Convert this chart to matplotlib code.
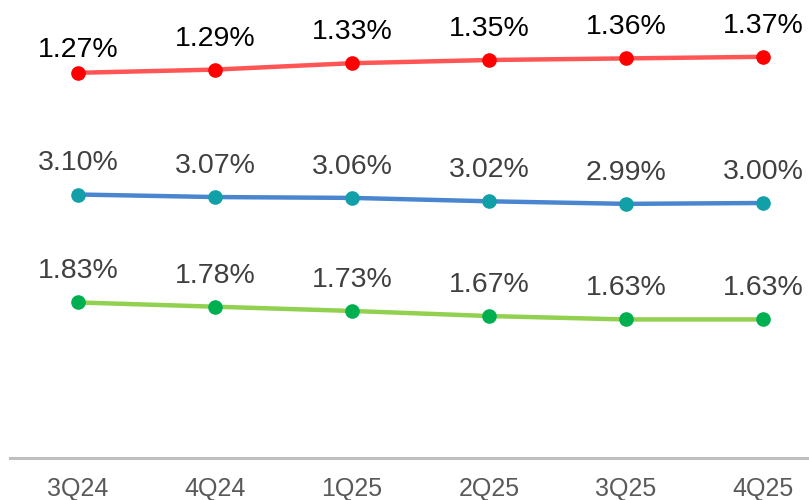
import matplotlib.pyplot as plt

quarters = ["3Q24", "4Q24", "1Q25", "2Q25", "3Q25", "4Q25"]
red_vals = [1.27, 1.29, 1.33, 1.35, 1.36, 1.37]
blue_vals = [3.10, 3.07, 3.06, 3.02, 2.99, 3.00]
green_vals = [1.83, 1.78, 1.73, 1.67, 1.63, 1.63]

plt.rcParams['font.family'] = ['Liberation Sans', 'DejaVu Sans']

fig = plt.figure(figsize=(8.09, 5.0), dpi=100)
ax = fig.add_axes([10 / 809, 42 / 500, 799 / 809, 458 / 500])
ax2 = ax.twinx()

x = list(range(len(quarters)))

# blue and green share the left scale, red has its own
ax.plot(x, blue_vals, color="#4A86D0", lw=3.2, marker="o", ms=9.5,
        mfc="#12A0A8", mec="#12A0A8", zorder=3)
ax.plot(x, green_vals, color="#92D050", lw=3.2, marker="o", ms=9.5,
        mfc="#00B050", mec="#00B050", zorder=3)
ax2.plot(x, red_vals, color="#FF5555", lw=3.2, marker="o", ms=9.5,
         mfc="#FF0000", mec="#FF0000", zorder=3)

for xi, v in zip(x, blue_vals):
    ax.annotate(f"{v:.2f}%", (xi, v), xytext=(0, 13), textcoords="offset points",
                ha="center", va="bottom", fontsize=20.5, color="#404040")
for xi, v in zip(x, green_vals):
    ax.annotate(f"{v:.2f}%", (xi, v), xytext=(0, 13), textcoords="offset points",
                ha="center", va="bottom", fontsize=20.5, color="#404040")
for xi, v in zip(x, red_vals):
    dy = 7 if xi == 0 else 13   # first label sits lower in the original
    ax2.annotate(f"{v:.2f}%", (xi, v), xytext=(0, dy), textcoords="offset points",
                 ha="center", va="bottom", fontsize=20.5, color="#000000")

ax.set_xlim(-68 / 137, 731 / 137)
ax.set_ylim(0, 458 / 85)
ax2.set_ylim((276 - 458) / 160, 276 / 160)

ax.set_xticks(x)
ax.set_xticklabels(quarters, fontsize=18, color="#595959")
ax.tick_params(axis="x", length=0, pad=14)
ax.set_yticks([])
ax2.set_yticks([])

for a in (ax, ax2):
    for s in ("top", "left", "right", "bottom"):
        a.spines[s].set_visible(False)
ax.spines["bottom"].set_visible(True)
ax.spines["bottom"].set_color("#BFBFBF")
ax.spines["bottom"].set_linewidth(2.2)

fig.savefig("out.png", dpi=100)
